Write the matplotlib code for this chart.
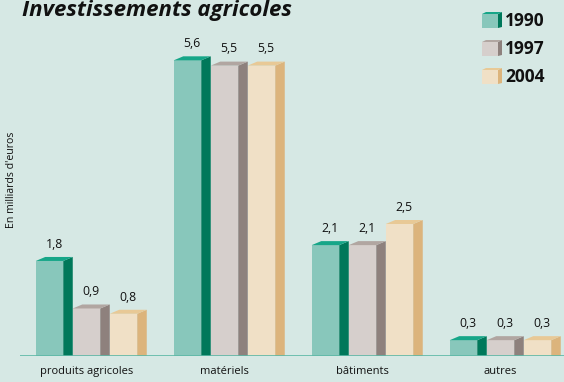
import matplotlib
matplotlib.use('Agg')
import matplotlib.pyplot as plt
from matplotlib.patches import Polygon

categories = ["produits agricoles", "matériels", "bâtiments", "autres"]
years = ["1990", "1997", "2004"]
v1990 = [1.8, 5.6, 2.1, 0.3]
v1997 = [0.9, 5.5, 2.1, 0.3]
v2004 = [0.8, 5.5, 2.5, 0.3]
series = [v1990, v1997, v2004]

BG = '#d6e8e4'
COLORS = [  # front, side, top
    ('#88c7bb', '#00785a', '#16a688'),
    ('#d6cfcc', '#8e817d', '#b1a6a1'),
    ('#f0e0c6', '#dcb47c', '#e8c996'),
]
FONT = 'Open Sans'

W, H = 564, 382
fig = plt.figure(figsize=(W / 100, H / 100), dpi=100, facecolor=BG)

PX = 138.0          # px per category unit
PY = 52.8           # px per value unit
left_px, base_px = 20, 356
x0_px = 86.5        # px of first group center
ax = fig.add_axes([left_px / W, (H - base_px) / H, (W - left_px) / W, base_px / H])
ax.set_facecolor(BG)
ax.set_xlim((left_px - x0_px) / PX, (W - x0_px) / PX)
ax.set_ylim(0, base_px / PY)
for s in ax.spines.values():
    s.set_visible(False)
ax.set_xticks([])
ax.set_yticks([])

slot = 37 / PX
bw = 27.5 / PX
dx = 9.5 / PX
dy = 4.0 / PY

for si, vals in enumerate(series):
    front, side, top = COLORS[si]
    for gi, v in enumerate(vals):
        xc = gi + (si - 1) * slot
        xl, xr = xc - bw / 2, xc + bw / 2
        ax.bar(xc, v, width=bw, color=front, linewidth=0, zorder=2)
        ax.add_patch(Polygon([(xr, 0), (xr + dx, 0), (xr + dx, v + dy), (xr, v)],
                             closed=True, facecolor=side, edgecolor='none', zorder=2))
        ax.add_patch(Polygon([(xl, v), (xr, v), (xr + dx, v + dy), (xl + dx, v + dy)],
                             closed=True, facecolor=top, edgecolor='none', zorder=2))
        ax.annotate(f"{v:.1f}".replace('.', ','), (xc + dx / 2, v + dy),
                    xytext=(0, 4.5), textcoords='offset points', ha='center', va='bottom',
                    fontsize=8.8, family=FONT, color='#111111')

ax.axhline(0, color='#5cb8a6', linewidth=1.2, zorder=3)

for gi, c in enumerate(categories):
    ax.annotate(c, (gi, 0), xytext=(0, -11), textcoords='offset points',
                ha='center', va='center', fontsize=8, family=FONT, color='#111111',
                annotation_clip=False)

fig.text(12 / W, 1 - 180 / H, "En milliards d'euros", rotation=90, ha='center', va='center',
         fontsize=7.6, family=FONT, color='#111111')

fig.text(22 / W, 1 - 16 / H, "Investissements agricoles", ha='left', va='baseline',
         fontsize=16, family=FONT, fontweight='bold', fontstyle='italic', color='#111111')

# legend in pixel coords
lax = fig.add_axes([0, 0, 1, 1])
lax.set_xlim(0, W)
lax.set_ylim(H, 0)
lax.axis('off')
for i, y in enumerate(years):
    front, side, top = COLORS[i]
    cy = 20 + 28 * i
    bx0, bx1, d = 482, 498, 4
    yt, yb = cy - 6, cy + 8
    lax.add_patch(Polygon([(bx0, yt), (bx1, yt), (bx1, yb), (bx0, yb)], facecolor=front, edgecolor='none'))
    lax.add_patch(Polygon([(bx1, yt), (bx1 + d, yt - 2), (bx1 + d, yb - 1), (bx1, yb)], facecolor=side, edgecolor='none'))
    lax.add_patch(Polygon([(bx0, yt), (bx1, yt), (bx1 + d, yt - 2), (bx0 + d, yt - 2)], facecolor=top, edgecolor='none'))
    lax.text(505, cy + 1, y, ha='left', va='center', fontsize=12.5, family=FONT,
             fontweight='bold', color='#111111')

fig.savefig('out.png', dpi=100, facecolor=BG)
